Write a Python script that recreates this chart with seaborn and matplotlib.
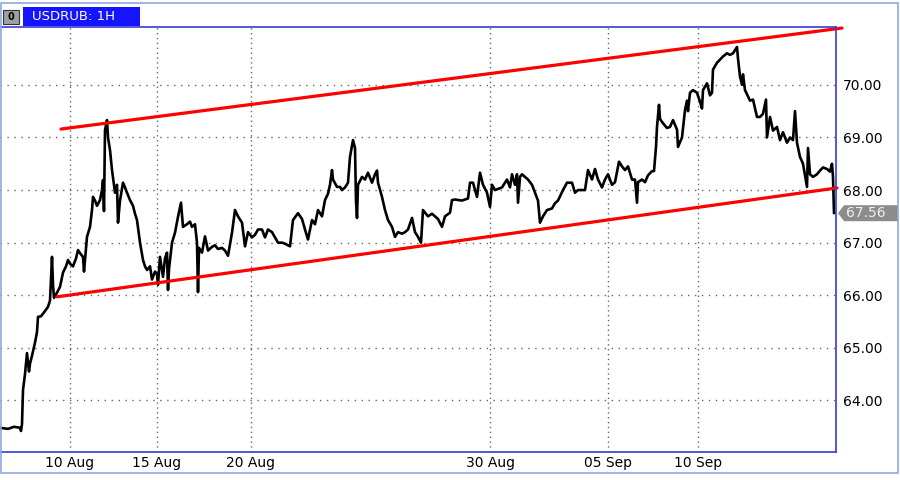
import numpy as np
import pandas as pd
import matplotlib
matplotlib.use("Agg")
import matplotlib.pyplot as plt
import seaborn as sns
from matplotlib.patches import Rectangle, Polygon
from matplotlib import transforms

# position on the trading-time axis (weekends skipped)
t_pos = [
    0, 8, 14, 20, 21, 22, 23, 25, 27, 29, 30, 32,
    35, 37, 38, 41, 45, 48, 50, 52, 53, 54, 57, 60,
    63, 66, 68, 70, 73, 76, 78, 80, 83, 84, 86, 87,
    90, 92, 93, 95, 97, 100, 102, 103, 104, 105, 107, 108,
    110, 112, 114, 115, 117, 118, 120, 123, 125, 127, 130, 133,
    135, 137, 140, 143, 145, 147, 150, 152, 153, 155, 157, 158,
    160, 163, 165, 167, 168, 169, 172, 175, 178, 181, 183, 187,
    190, 192, 195, 197, 198, 199, 202, 205, 208, 212, 215, 218,
    222, 225, 228, 232, 235, 238, 242, 245, 248, 252, 255, 258,
    262, 265, 268, 272, 275, 278, 282, 285, 290, 293, 298, 302,
    305, 308, 312, 315, 318, 322, 325, 328, 330, 332, 333, 337,
    340, 342, 345, 348, 350, 353, 355, 356, 357, 358, 362, 365,
    368, 372, 375, 377, 378, 382, 385, 388, 392, 395, 398, 402,
    405, 408, 412, 415, 418, 421, 423, 428, 432, 435, 438, 442,
    445, 450, 452, 455, 462, 468, 470, 473, 477, 480, 483, 487,
    490, 492, 495, 502, 507, 510, 512, 515, 517, 518, 520, 522,
    525, 528, 532, 535, 538, 540, 543, 547, 552, 555, 558, 563,
    567, 572, 575, 578, 585, 588, 592, 595, 598, 602, 605, 608,
    612, 615, 619, 622, 625, 628, 632, 635, 637, 638, 642, 645,
    648, 652, 654, 656, 657, 659, 660, 663, 667, 670, 673, 677,
    678, 682, 685, 687, 688, 690, 693, 697, 700, 702, 703, 707,
    710, 712, 713, 717, 720, 723, 727, 730, 733, 737, 738, 740,
    742, 743, 745, 748, 750, 753, 757, 760, 763, 766, 767, 770,
    773, 777, 780, 783, 787, 790, 793, 795, 797, 800, 803, 807,
    808, 810, 813, 817, 820, 823, 827, 830, 832, 833, 834,
]

close = [
    63.48, 63.46, 63.50, 63.48, 63.42, 63.55, 64.20, 64.50, 64.90, 64.55, 64.70, 64.85,
    65.10, 65.30, 65.59, 65.60, 65.70, 65.78, 65.90, 66.73, 66.20, 65.95, 66.05, 66.16,
    66.43, 66.55, 66.67, 66.60, 66.55, 66.70, 66.86, 66.80, 66.73, 66.45, 66.90, 67.11,
    67.30, 67.62, 67.87, 67.80, 67.70, 67.81, 68.00, 68.19, 67.60, 69.14, 69.33, 69.00,
    68.76, 68.38, 68.10, 67.95, 68.10, 67.38, 67.80, 68.14, 68.05, 67.95, 67.81, 67.70,
    67.55, 67.43, 67.00, 66.67, 66.55, 66.48, 66.55, 66.30, 66.35, 66.45, 66.40, 66.20,
    66.73, 66.35, 66.70, 66.81, 66.10, 66.50, 67.00, 67.19, 67.49, 67.76, 67.30, 67.35,
    67.40, 67.30, 67.35, 67.00, 66.06, 66.90, 66.81, 67.12, 66.85, 66.92, 66.95, 66.88,
    66.90, 66.85, 66.75, 67.19, 67.62, 67.50, 67.38, 66.93, 67.20, 67.10, 67.15, 67.25,
    67.25, 67.10, 67.25, 67.20, 67.10, 67.00, 67.00, 66.98, 66.93, 67.43, 67.56, 67.45,
    67.25, 67.06, 67.43, 67.35, 67.62, 67.50, 67.81, 67.93, 68.10, 68.38, 68.20, 68.06,
    68.06, 68.00, 68.05, 68.14, 68.63, 68.95, 68.80, 67.80, 67.47, 68.10, 68.25, 68.20,
    68.33, 68.14, 68.30, 68.37, 68.14, 67.87, 67.62, 67.43, 67.30, 67.11, 67.20, 67.17,
    67.20, 67.25, 67.47, 67.20, 67.11, 67.00, 67.62, 67.50, 67.55, 67.50, 67.45, 67.30,
    67.50, 67.57, 67.81, 67.82, 67.80, 67.84, 68.14, 68.14, 67.87, 68.33, 68.10, 67.95,
    67.68, 68.10, 68.00, 68.05, 68.20, 68.05, 68.30, 68.10, 68.30, 67.76, 68.25, 68.30,
    68.25, 68.20, 68.10, 67.95, 67.80, 67.38, 67.50, 67.62, 67.65, 67.75, 67.80, 68.00,
    68.14, 68.14, 67.95, 68.00, 68.00, 68.38, 68.20, 68.40, 68.20, 68.05, 68.20, 68.30,
    68.10, 68.15, 68.54, 68.45, 68.38, 68.45, 68.20, 68.20, 67.76, 68.15, 68.20, 68.15,
    68.28, 68.36, 68.36, 68.82, 69.20, 69.62, 69.35, 69.27, 69.18, 69.20, 69.33, 69.15,
    68.82, 69.00, 69.52, 69.70, 69.50, 69.85, 69.90, 69.85, 69.68, 69.55, 69.90, 70.03,
    69.80, 69.85, 70.29, 70.42, 70.48, 70.54, 70.60, 70.57, 70.60, 70.72, 70.50, 70.16,
    70.00, 70.20, 69.90, 69.78, 69.70, 69.72, 69.39, 69.39, 69.45, 69.72, 69.00, 69.39,
    69.13, 69.20, 68.95, 69.10, 68.90, 69.00, 68.95, 69.50, 68.90, 68.63, 68.50, 68.06,
    68.80, 68.30, 68.25, 68.30, 68.37, 68.43, 68.40, 68.35, 68.50, 68.25, 67.56,
]

# channel lines drawn on the chart
upper_x = [61, 842]
upper_y = [69.16, 71.08]
lower_x = [57, 837]
lower_y = [65.97, 68.04]

date_ticks = [70, 157, 251, 490, 608, 698]
date_labels = ["10 Aug", "15 Aug", "20 Aug", "30 Aug", "05 Sep", "10 Sep"]
price_ticks = [64, 65, 66, 67, 68, 69, 70]

BLUE = "#3a3ad8"

sns.set_style("white")
plt.rcParams["font.family"] = ["DejaVu Sans"]

fig = plt.figure(figsize=(9, 4.8), dpi=100)
fig.patch.set_facecolor("white")
ax = fig.add_axes([0.0, 28 / 480, 836 / 900, 425 / 480])

df = pd.DataFrame({"t": t_pos, "price": close})
sns.lineplot(data=df, x="t", y="price", ax=ax, color="black", lw=1.9,
             estimator=None, sort=False)
sns.lineplot(x=upper_x, y=upper_y, ax=ax, color="#ff0000", lw=2.3, clip_on=False)
sns.lineplot(x=lower_x, y=lower_y, ax=ax, color="#ff0000", lw=2.3, clip_on=False)

ax.set_xlim(0, 836)
ax.set_ylim(63.02, 71.10)
ax.set_xticks(date_ticks)
ax.set_xticklabels(date_labels)
ax.yaxis.tick_right()
ax.set_yticks(price_ticks)
ax.set_yticklabels([f"{p:.2f}" for p in price_ticks])
ax.set_xlabel("")
ax.set_ylabel("")
ax.tick_params(axis="both", length=0, labelsize=10, colors="#000000")
ax.tick_params(axis="y", pad=5)
ax.tick_params(axis="x", pad=3)

ax.grid(True, axis="y", color="#666666", linestyle=(0, (1, 4)), lw=1.0)
ax.grid(True, axis="x", color="#666666", linestyle=(0, (1, 2.5)), lw=1.0)
ax.set_axisbelow(True)

ax.spines["left"].set_visible(False)
for s in ["top", "right", "bottom"]:
    ax.spines[s].set_color(BLUE)
    ax.spines[s].set_linewidth(1.2)

# last price tag
last = close[-1]
tr = transforms.blended_transform_factory(ax.transAxes, ax.transData)
h = 8 / 52.6
px = 1 / 836
tag = Polygon([(1 + 2 * px, last), (1 + 8 * px, last + h), (1 + 62 * px, last + h),
               (1 + 62 * px, last - h), (1 + 8 * px, last - h)],
              closed=True, transform=tr, facecolor="#8c8c8c", edgecolor="none",
              clip_on=False)
ax.add_patch(tag)
ax.text(1 + 10 * px, last, f"{last:.2f}", transform=tr, color="#f0f0f0",
        fontsize=10, va="center", ha="left", clip_on=False)

# header caption
fig.patches.append(Rectangle((23 / 900, 454 / 480), 117 / 900, 19 / 480,
                             transform=fig.transFigure, facecolor="#1414ff",
                             edgecolor="none"))
fig.text(32 / 900, 463.5 / 480, "USDRUB: 1H", color="white", fontsize=9.5,
         va="center", ha="left")
fig.patches.append(Rectangle((3 / 900, 456 / 480), 16 / 900, 14 / 480,
                             transform=fig.transFigure, facecolor="#a0a0a0",
                             edgecolor="#333333", lw=0.8))
fig.text(11 / 900, 463 / 480, "0", color="black", fontsize=7, fontweight="bold",
         va="center", ha="center")

# outer window frame
fig.patches.append(Rectangle((1 / 900, 7 / 480), 897 / 900, 470 / 480,
                             transform=fig.transFigure, fill=False,
                             edgecolor="#8fa8dc", lw=1.2))

fig.savefig("out.png", dpi=100, facecolor="white")
